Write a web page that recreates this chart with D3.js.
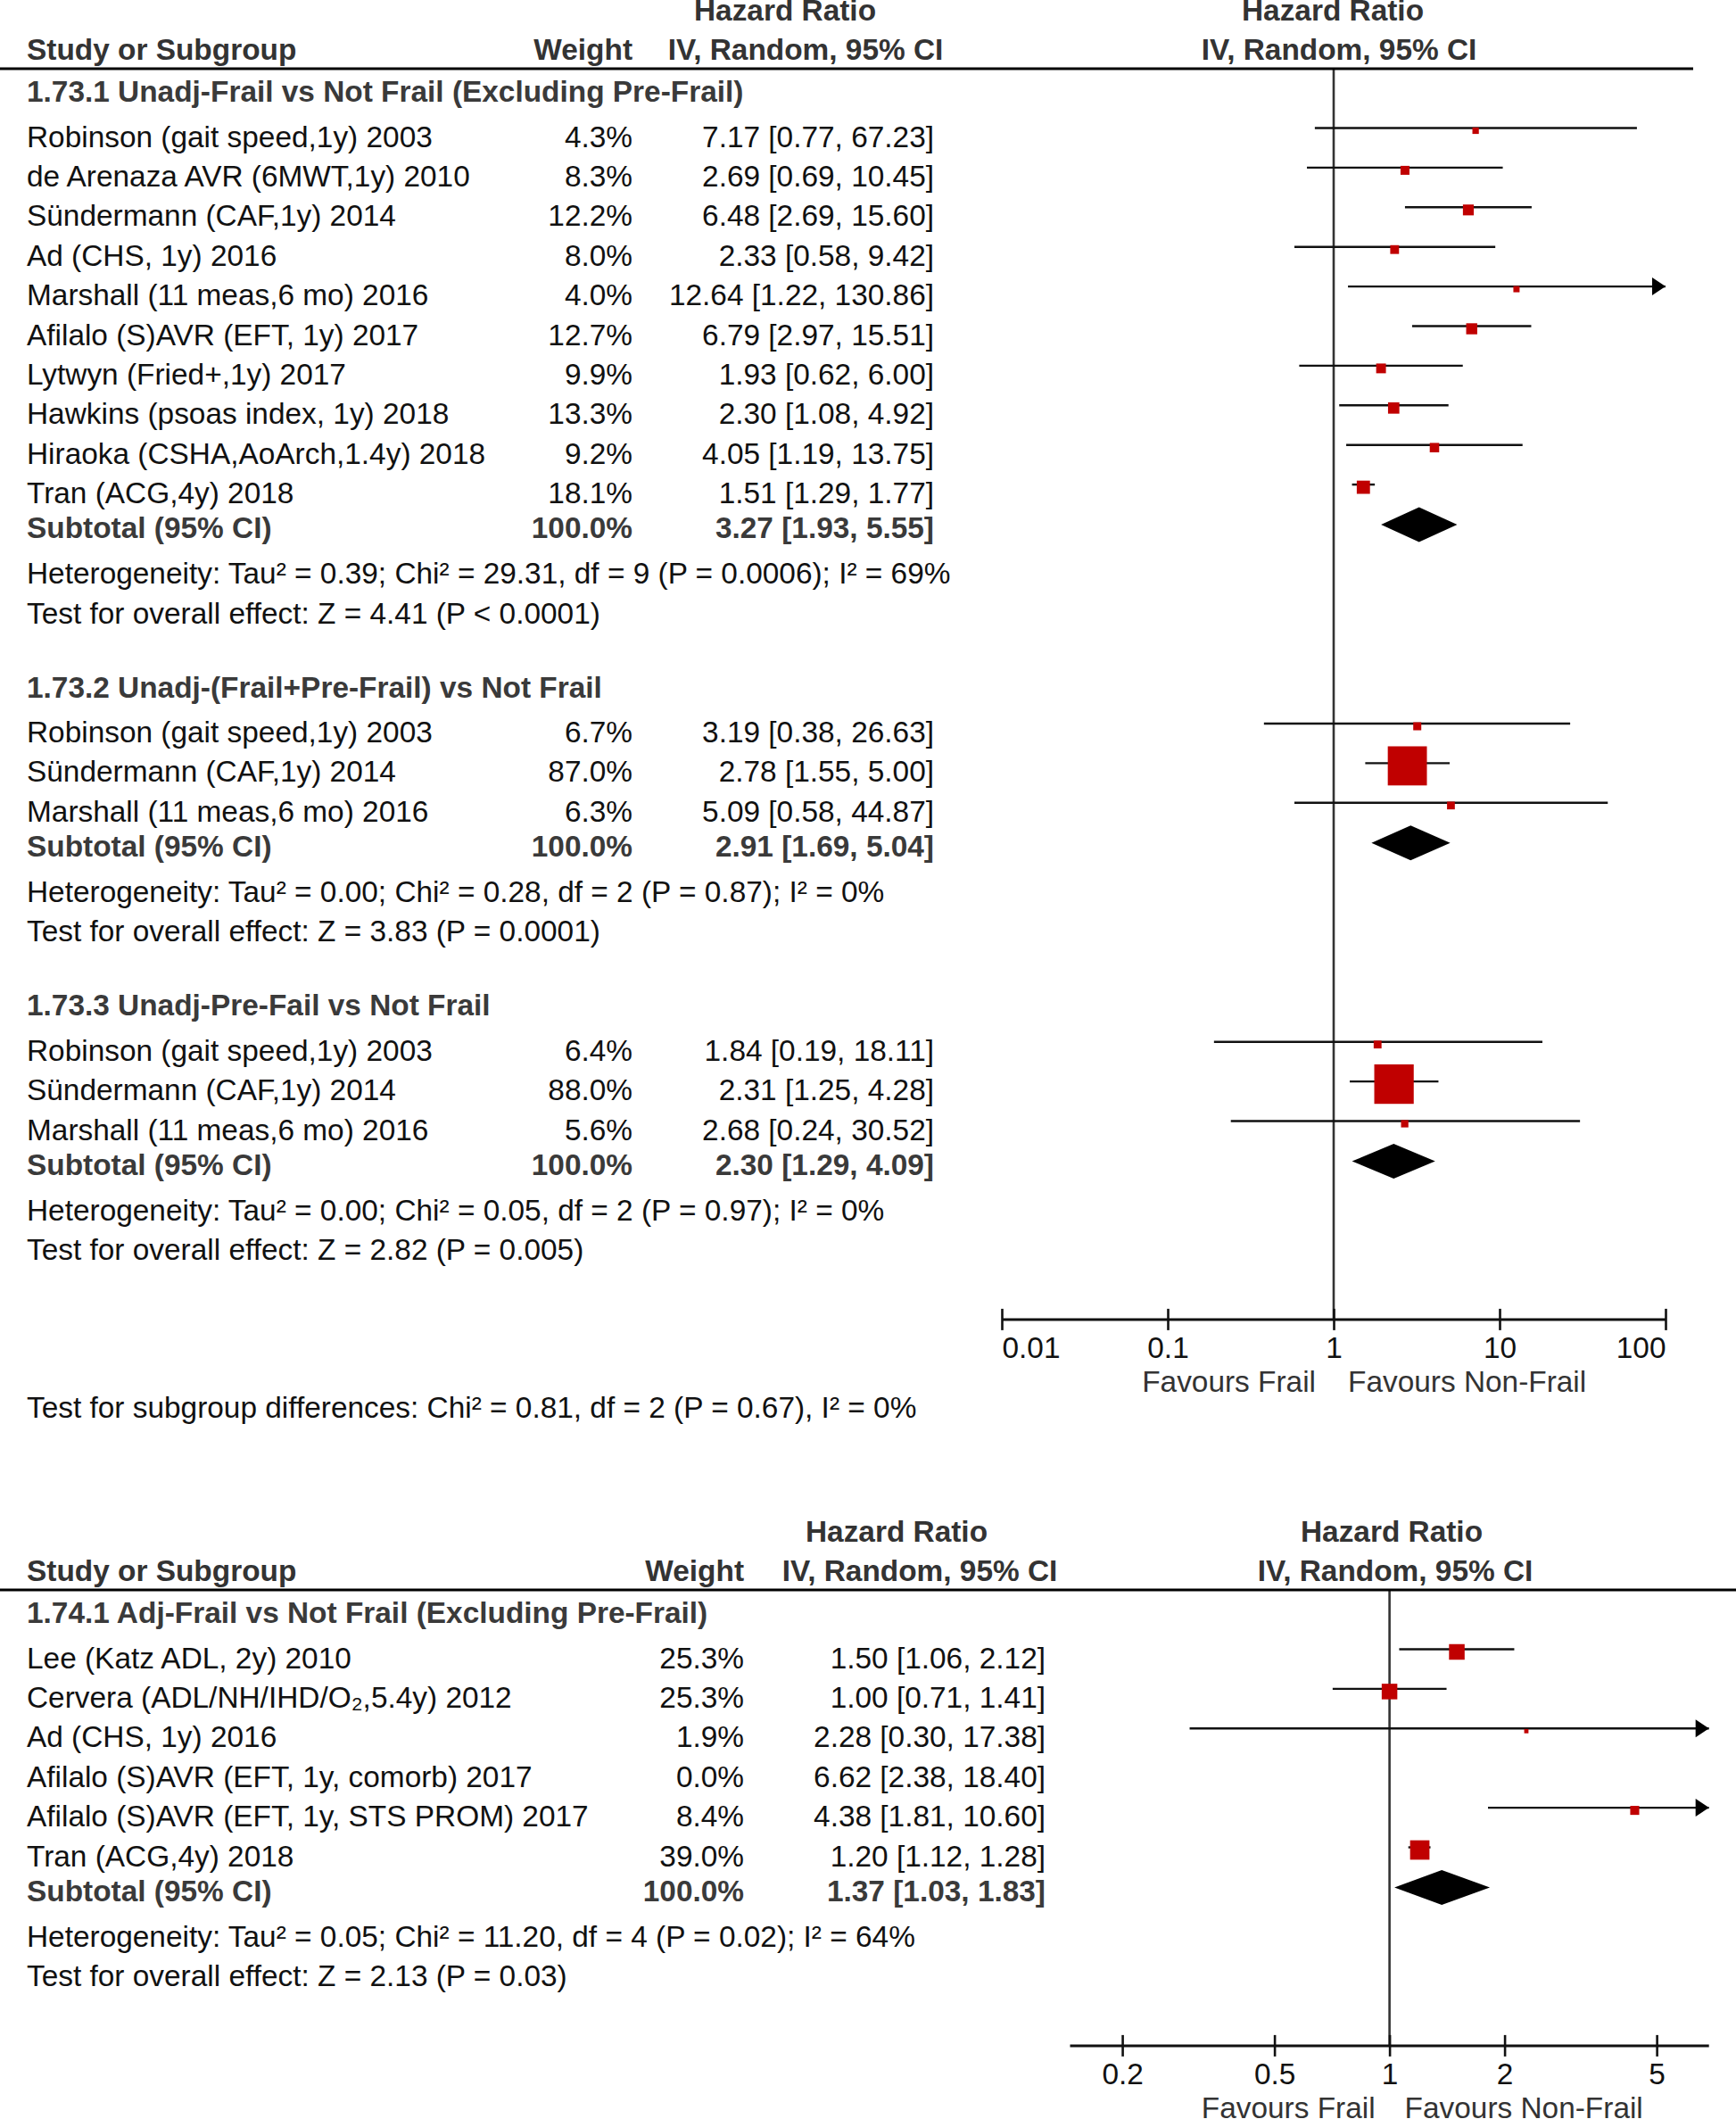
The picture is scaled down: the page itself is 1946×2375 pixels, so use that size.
<!DOCTYPE html>
<html><head><meta charset="utf-8">
<script src="https://cdn.jsdelivr.net/npm/d3@7"></script>
<style>
body{margin:0;background:#fff}
svg text{font-family:"Liberation Sans",Arial,Helvetica,sans-serif;font-size:33.4px}
</style>
</head><body>
<svg id="chart" width="1946" height="2375"></svg>
<script>
// ---------------- DATA ----------------
const colHeaders = ["Study or Subgroup", "Weight", "Hazard Ratio", "IV, Random, 95% CI"];
const favourLabels = ["Favours Frail", "Favours Non-Frail"];

// Figure 1.73
const g1Title = "1.73.1 Unadj-Frail vs Not Frail (Excluding Pre-Frail)";
const g1Studies = ["Robinson (gait speed,1y) 2003", "de Arenaza AVR (6MWT,1y) 2010", "Sündermann (CAF,1y) 2014", "Ad (CHS, 1y) 2016", "Marshall (11 meas,6 mo) 2016", "Afilalo (S)AVR (EFT, 1y) 2017", "Lytwyn (Fried+,1y) 2017", "Hawkins (psoas index, 1y) 2018", "Hiraoka (CSHA,AoArch,1.4y) 2018", "Tran (ACG,4y) 2018"];
const g1Weight = [4.3, 8.3, 12.2, 8.0, 4.0, 12.7, 9.9, 13.3, 9.2, 18.1];
const g1HR = [7.17, 2.69, 6.48, 2.33, 12.64, 6.79, 1.93, 2.30, 4.05, 1.51];
const g1Lo = [0.77, 0.69, 2.69, 0.58, 1.22, 2.97, 0.62, 1.08, 1.19, 1.29];
const g1Hi = [67.23, 10.45, 15.60, 9.42, 130.86, 15.51, 6.00, 4.92, 13.75, 1.77];
const g1Total = [3.27, 1.93, 5.55];
const g1Het = "Heterogeneity: Tau² = 0.39; Chi² = 29.31, df = 9 (P = 0.0006); I² = 69%";
const g1Test = "Test for overall effect: Z = 4.41 (P < 0.0001)";

const g2Title = "1.73.2 Unadj-(Frail+Pre-Frail) vs Not Frail";
const g2Studies = ["Robinson (gait speed,1y) 2003", "Sündermann (CAF,1y) 2014", "Marshall (11 meas,6 mo) 2016"];
const g2Weight = [6.7, 87.0, 6.3];
const g2HR = [3.19, 2.78, 5.09];
const g2Lo = [0.38, 1.55, 0.58];
const g2Hi = [26.63, 5.00, 44.87];
const g2Total = [2.91, 1.69, 5.04];
const g2Het = "Heterogeneity: Tau² = 0.00; Chi² = 0.28, df = 2 (P = 0.87); I² = 0%";
const g2Test = "Test for overall effect: Z = 3.83 (P = 0.0001)";

const g3Title = "1.73.3 Unadj-Pre-Fail vs Not Frail";
const g3Studies = ["Robinson (gait speed,1y) 2003", "Sündermann (CAF,1y) 2014", "Marshall (11 meas,6 mo) 2016"];
const g3Weight = [6.4, 88.0, 5.6];
const g3HR = [1.84, 2.31, 2.68];
const g3Lo = [0.19, 1.25, 0.24];
const g3Hi = [18.11, 4.28, 30.52];
const g3Total = [2.30, 1.29, 4.09];
const g3Het = "Heterogeneity: Tau² = 0.00; Chi² = 0.05, df = 2 (P = 0.97); I² = 0%";
const g3Test = "Test for overall effect: Z = 2.82 (P = 0.005)";

const subgroupDiff = "Test for subgroup differences: Chi² = 0.81, df = 2 (P = 0.67), I² = 0%";
const topTicks = [0.01, 0.1, 1, 10, 100];
const topDomain = [0.01, 100];

// Figure 1.74
const g4Title = "1.74.1 Adj-Frail vs Not Frail (Excluding Pre-Frail)";
const g4Studies = ["Lee (Katz ADL, 2y) 2010", "Cervera (ADL/NH/IHD/O₂,5.4y) 2012", "Ad (CHS, 1y) 2016", "Afilalo (S)AVR (EFT, 1y, comorb) 2017", "Afilalo (S)AVR (EFT, 1y, STS PROM) 2017", "Tran (ACG,4y) 2018"];
const g4Weight = [25.3, 25.3, 1.9, 0.0, 8.4, 39.0];
const g4HR = [1.50, 1.00, 2.28, 6.62, 4.38, 1.20];
const g4Lo = [1.06, 0.71, 0.30, 2.38, 1.81, 1.12];
const g4Hi = [2.12, 1.41, 17.38, 18.40, 10.60, 1.28];
const g4Total = [1.37, 1.03, 1.83];
const g4Het = "Heterogeneity: Tau² = 0.05; Chi² = 11.20, df = 4 (P = 0.02); I² = 64%";
const g4Test = "Test for overall effect: Z = 2.13 (P = 0.03)";
const botTicks = [0.2, 0.5, 1, 2, 5];
const botDomain = [1 / 6.85, 6.85];

// ---------------- BUILD ----------------
function makeGroup(title, names, w, hr, lo, hi, tot, het, test) {
  return {title, het, test, total: {hr: tot[0], lo: tot[1], hi: tot[2]},
    studies: names.map((n, i) => ({name: n, w: w[i], hr: hr[i], lo: lo[i], hi: hi[i]}))};
}
const topGroups = [
  makeGroup(g1Title, g1Studies, g1Weight, g1HR, g1Lo, g1Hi, g1Total, g1Het, g1Test),
  makeGroup(g2Title, g2Studies, g2Weight, g2HR, g2Lo, g2Hi, g2Total, g2Het, g2Test),
  makeGroup(g3Title, g3Studies, g3Weight, g3HR, g3Lo, g3Hi, g3Total, g3Het, g3Test)
];
const botGroups = [
  makeGroup(g4Title, g4Studies, g4Weight, g4HR, g4Lo, g4Hi, g4Total, g4Het, g4Test)
];

const svg = d3.select("#chart");
const REG = "#111", BOLD = "#3a3a3a", HEAD = "#333";
const PITCH = 44.4;
const boxSize = d3.scaleSqrt().domain([0, 40, 90]).range([0, 22, 45]);
const fmt = v => v.toFixed(2);
const ciText = d => `${fmt(d.hr)} [${fmt(d.lo)}, ${fmt(d.hi)}]`;

function txt(g, x, y, s, opts = {}) {
  return g.append("text").attr("x", x).attr("y", y)
    .attr("text-anchor", opts.anchor || "start")
    .attr("font-weight", opts.bold ? "bold" : "normal")
    .attr("fill", opts.fill || REG).text(s);
}

function drawPanel(cfg) {
  const g = svg.append("g");
  const x = d3.scaleLog().domain(cfg.domain).range(cfg.range);
  const [dMin, dMax] = cfg.domain;
  let y = cfg.top;
  // headers
  txt(g, cfg.hrCenter, y, colHeaders[2], {anchor: "middle", bold: true, fill: HEAD});
  txt(g, cfg.plotHrCenter, y, colHeaders[2], {anchor: "middle", bold: true, fill: HEAD});
  y += 44;
  txt(g, cfg.nameX, y, colHeaders[0], {bold: true, fill: HEAD});
  txt(g, cfg.weightX, y, colHeaders[1], {anchor: "end", bold: true, fill: HEAD});
  txt(g, cfg.ivCenter, y, colHeaders[3], {anchor: "middle", bold: true, fill: HEAD});
  txt(g, cfg.plotIvCenter, y, colHeaders[3], {anchor: "middle", bold: true, fill: HEAD});
  const ruleY = y + 10;
  g.append("line").attr("x1", 0).attr("x2", cfg.ruleEnd).attr("y1", ruleY).attr("y2", ruleY)
    .attr("stroke", "#000").attr("stroke-width", 3);

  let b = ruleY + 37; // group header baseline
  const plotG = g.append("g");
  cfg.groups.forEach((grp, gi) => {
    if (gi > 0) b += 83;
    txt(g, cfg.nameX, b, grp.title, {bold: true, fill: BOLD});
    let ly = b + 29.5;
    grp.studies.forEach((s, si) => {
      const yy = ly + si * PITCH;
      txt(g, cfg.nameX, yy + 21, s.name);
      txt(g, cfg.weightX, yy + 21, s.w.toFixed(1) + "%", {anchor: "end"});
      txt(g, cfg.ciX, yy + 21, ciText(s), {anchor: "end"});
      if (s.w > 0) {
        const xl = x(Math.max(s.lo, dMin)), xr = x(Math.min(s.hi, dMax));
        plotG.append("line").attr("x1", xl).attr("x2", xr).attr("y1", yy).attr("y2", yy)
          .attr("stroke", "#111").attr("stroke-width", 2.4);
        if (s.hi > dMax) {
          plotG.append("path").attr("d", `M${xr},${yy} L${xr - 15},${yy - 10} L${xr - 15},${yy + 10} Z`).attr("fill", "#000");
        }
        if (s.lo < dMin) {
          plotG.append("path").attr("d", `M${xl},${yy} L${xl + 15},${yy - 10} L${xl + 15},${yy + 10} Z`).attr("fill", "#000");
        }
        const sz = boxSize(s.w);
        plotG.append("rect").attr("x", x(s.hr) - sz / 2).attr("y", yy + 3 - sz / 2)
          .attr("width", sz).attr("height", sz).attr("fill", "#c00000");
      }
    });
    const lastLine = ly + (grp.studies.length - 1) * PITCH;
    b = lastLine + 60;
    txt(g, cfg.nameX, b, "Subtotal (95% CI)", {bold: true, fill: BOLD});
    txt(g, cfg.weightX, b, "100.0%", {anchor: "end", bold: true, fill: BOLD});
    txt(g, cfg.ciX, b, ciText(grp.total), {anchor: "end", bold: true, fill: BOLD});
    const dy = b - 15, t = grp.total;
    plotG.append("path").attr("d",
      `M${x(t.lo)},${dy} L${x(t.hr)},${dy - 19.5} L${x(t.hi)},${dy} L${x(t.hr)},${dy + 19.5} Z`)
      .attr("fill", "#000");
    b += 51;
    txt(g, cfg.nameX, b, grp.het);
    b += PITCH;
    txt(g, cfg.nameX, b, grp.test);
  });

  const axisY = b + 67;
  // vertical line of no effect
  g.insert("line", ":first-child").attr("x1", x(1)).attr("x2", x(1)).attr("y1", ruleY).attr("y2", axisY)
    .attr("stroke", "#333").attr("stroke-width", 2.6);

  const axis = d3.axisBottom(x).tickValues(cfg.ticks).tickSizeOuter(0).tickSizeInner(12)
    .tickFormat(d3.format("~g")).tickPadding(0);
  const ag = g.append("g").attr("transform", `translate(0,${axisY})`).call(axis);
  ag.attr("font-family", null).attr("font-size", null);
  ag.select(".domain").attr("d", `M${cfg.range[0]},0H${cfg.range[1]}`)
    .attr("stroke", "#111").attr("stroke-width", 3);
  ag.selectAll(".tick line").attr("y1", -12).attr("y2", 12).attr("stroke", "#111").attr("stroke-width", 2.6);
  ag.selectAll(".tick text").attr("y", 43).attr("dy", null).attr("fill", REG)
    .attr("text-anchor", d => cfg.edgeAlign && d === dMin ? "start" : (cfg.edgeAlign && d === dMax ? "end" : "middle"));
  txt(g, x(1) - cfg.favGapL, axisY + 81, favourLabels[0], {anchor: "end", fill: HEAD});
  txt(g, x(1) + cfg.favGapR, axisY + 81, favourLabels[1], {fill: HEAD});
  return axisY;
}

const topAxis = drawPanel({
  top: 23, groups: topGroups, domain: topDomain, range: [1123, 1867], ticks: topTicks, edgeAlign: true,
  nameX: 30, weightX: 709, ciX: 1047, hrCenter: 880, ivCenter: 903, plotHrCenter: 1494, plotIvCenter: 1501,
  ruleEnd: 1898, favGapL: 20, favGapR: 16
});
txt(svg, 30, topAxis + 110, subgroupDiff);

drawPanel({
  top: 1728, groups: botGroups, domain: botDomain, range: [1199.5, 1915.7], ticks: botTicks, edgeAlign: false,
  nameX: 30, weightX: 834, ciX: 1172, hrCenter: 1005, ivCenter: 1031, plotHrCenter: 1560, plotIvCenter: 1564,
  ruleEnd: 1946, favGapL: 16, favGapR: 17
});
</script>
</body></html>
